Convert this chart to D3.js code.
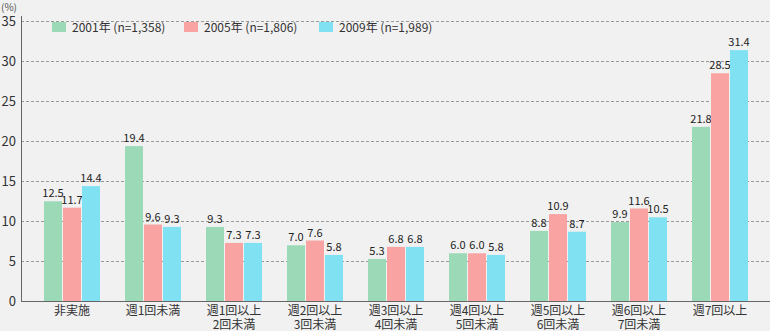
<!DOCTYPE html>
<html><head><meta charset="utf-8">
<script src="https://cdn.jsdelivr.net/npm/d3@7"></script>
<style>
html,body{margin:0;padding:0;background:#f1f1f1;}
svg{display:block;font-family:"Noto Sans CJK JP","Noto Sans",sans-serif;}
</style></head><body>
<svg id="c" width="770" height="331"></svg>
<script>
const categories = [["非実施"],["週1回未満"],["週1回以上","2回未満"],["週2回以上","3回未満"],["週3回以上","4回未満"],["週4回以上","5回未満"],["週5回以上","6回未満"],["週6回以上","7回未満"],["週7回以上"]];
const seriesNames = ["2001年 (n=1,358)","2005年 (n=1,806)","2009年 (n=1,989)"];
const v2001 = [12.5,19.4,9.3,7.0,5.3,6.0,8.8,9.9,21.8];
const v2005 = [11.7,9.6,7.3,7.6,6.8,6.0,10.9,11.6,28.5];
const v2009 = [14.4,9.3,7.3,5.8,6.8,5.8,8.7,10.5,31.4];
const yTicks = [0,5,10,15,20,25,30,35];
const colors = ["#9cd9b7","#f9a3a3","#80e1f3"];

const series = [v2001,v2005,v2009];
const svg = d3.select("#c");
const x0 = d3.scaleBand().domain(d3.range(categories.length)).range([31.5,760.5]);
const x1 = d3.scaleBand().domain([0,1,2]).range([0,57]);
const y = d3.scaleLinear().domain([0,35]).range([301.3,21.3]);

// grid
svg.append("g").selectAll("line").data(yTicks.filter(d=>d>0)).join("line")
  .attr("x1",21).attr("x2",770).attr("y1",d=>Math.round(y(d))+0.5).attr("y2",d=>Math.round(y(d))+0.5)
  .attr("stroke","#999").attr("stroke-dasharray","3,2");

// y tick labels
svg.append("g").selectAll("text").data(yTicks).join("text")
  .attr("x",16).attr("y",d=>y(d)+5).attr("text-anchor","end")
  .attr("font-size",13).attr("fill","#333").text(d=>d);
svg.append("text").attr("x",1).attr("y",11).attr("font-size",10).attr("fill","#555").text("(%)");

// bars
const g = svg.append("g");
series.forEach((vals,si)=>{
  const gx = c=> Math.round(x0(c)+x0.bandwidth()/2-28.5)+x1(si);
  g.selectAll(null).data(vals).join("rect")
    .attr("x",(d,i)=>gx(i)).attr("width",18)
    .attr("y",d=>y(d)).attr("height",d=>y(0)-y(d))
    .attr("fill",colors[si]);
  g.selectAll(null).data(vals).join("text")
    .attr("x",(d,i)=>gx(i)+9).attr("y",d=>y(d)-4)
    .attr("text-anchor","middle").attr("font-size",11).attr("fill","#222")
    .text(d=>d.toFixed(1));
});

// axes lines
svg.append("line").attr("x1",21.5).attr("x2",21.5).attr("y1",16).attr("y2",302).attr("stroke","#666");
svg.append("line").attr("x1",21).attr("x2",770).attr("y1",301.5).attr("y2",301.5).attr("stroke","#666");

// x labels
const xl = svg.append("g").selectAll("text").data(categories).join("text")
  .attr("x",(d,i)=>x0(i)+x0.bandwidth()/2).attr("text-anchor","middle")
  .attr("font-size",12).attr("fill","#333");
xl.selectAll("tspan").data(d=>d).join("tspan")
  .attr("x",function(){return this.parentNode.getAttribute("x");})
  .attr("y",(d,i)=>315+i*13.5).text(d=>d);

// legend
const legX = [52,184,319];
seriesNames.forEach((n,i)=>{
  svg.append("rect").attr("x",legX[i]).attr("y",22).attr("width",14).attr("height",10).attr("fill",colors[i]);
  svg.append("text").attr("x",legX[i]+20).attr("y",31.5).attr("font-size",12).attr("fill","#333").text(n);
});
</script></body></html>
